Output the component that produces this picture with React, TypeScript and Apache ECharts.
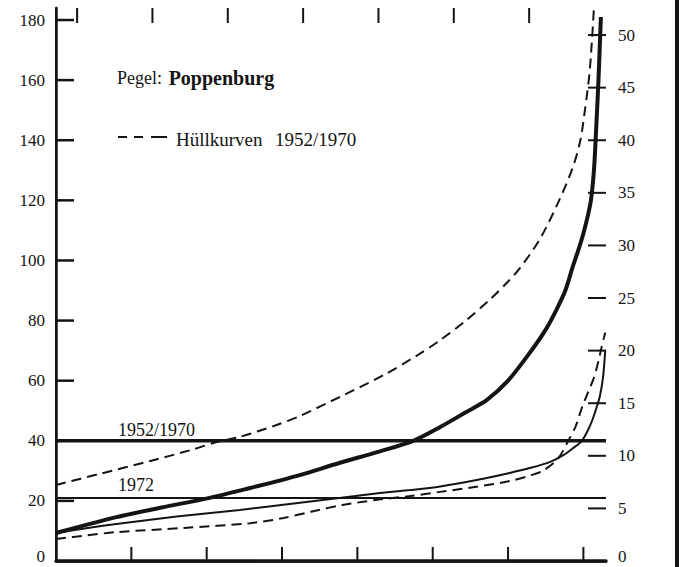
import { useEffect, useRef } from "react";
import * as echarts from "echarts";

// Abflussdauerlinien, Pegel Poppenburg (Tage im Jahr gegen Abfluss)
const DAY_MAX = 365;
const Q_LEFT_MAX = 184;
const RIGHT_SCALE = 3.5; // linke Einheit je rechter Einheit

const leftTickStep = 20;
const rightTickStep = 5;
const bottomTickStep = 50;

// Teilstriche (nach innen gerichtet)
const leftTicks = [20, 40, 60, 80, 100, 120, 140, 160, 180];
const rightTicks = [5, 10, 15, 20, 25, 30, 35, 40, 45, 50];
const bottomTickDays = [50, 100, 150, 200, 250, 300, 350];
const topTickDays = [14, 64, 114, 164, 214, 264, 314];

// obere Hüllkurve 1952/1970
const upperEnvelopeDays = [0, 29, 62, 90, 106, 122, 145, 162, 190, 218, 240, 255, 272, 288, 300, 308, 321, 333, 343, 348, 351, 354, 355.5, 357];
const upperEnvelopeQ = [25.3, 29, 33.2, 37, 39.5, 41.3, 45, 48.3, 55, 62, 68.5, 73.5, 80, 87, 93, 97.5, 107, 119, 131, 140, 150, 162, 172, 184];

// Dauerlinie 1952/1970
const meanCurveDays = [0, 20, 40, 70, 102, 129, 160, 188, 215, 237, 255, 272, 286, 300, 314, 325, 332, 338, 343, 347, 350, 353, 355, 357, 358.3, 360, 361.6];
const meanCurveQ = [9.3, 12, 14.6, 17.8, 21, 24.3, 28.3, 32.6, 36.5, 40, 44.6, 49.5, 53.6, 60, 69, 77, 83.5, 90, 98, 104, 109, 115, 120, 130, 142, 160, 181];

// Dauerlinie 1972
const year1972Days = [0, 20, 40, 80, 122, 155, 188, 215, 235, 255, 280, 301, 315, 328, 337, 343, 349, 353, 356, 359, 361, 363, 364.5];
const year1972Q = [9.3, 10.9, 12.3, 14.8, 17, 19, 21, 22.6, 23.6, 24.8, 27, 29.3, 31, 33, 35.3, 37.5, 40, 43.5, 47, 51.5, 55, 61, 70];

// untere Hüllkurve 1952/1970
const lowerEnvelopeDays = [0, 20, 40, 85, 129, 151, 170, 190, 212, 235, 255, 280, 301, 315, 323, 333, 340, 345, 349, 353, 357, 360, 362, 364.5];
const lowerEnvelopeQ = [7.3, 8.5, 9.6, 11, 12.6, 14.3, 16.5, 18.6, 20.3, 21.6, 23, 24.8, 26.6, 28.5, 30, 34, 40, 45, 51, 56, 61, 66.5, 71, 76];

// Mittelwerte als waagerechte Linien
const mean1952to1970 = 40;
const mean1972 = 21;

const INK = "#141414";
const SERIF = "'Liberation Serif', 'DejaVu Serif', serif";

const zip = (xs: number[], ys: number[]) => xs.map((x, i) => [x, ys[i]]);

// Striche der Legende „– – –“ (x-Anfang, x-Ende)
const legendDashes = [
  [118, 127],
  [134, 143],
  [151, 167],
];

// Teilstrich als eigene Serie: Punkt über die Achsen umrechnen, Strich nach innen zeichnen
function tickSeries(
  name: string,
  points: number[][],
  dx: number,
  dy: number,
  width: number,
  yAxisIndex = 0,
  xAxisIndex = 0
) {
  return {
    name,
    type: "custom",
    xAxisIndex,
    yAxisIndex,
    silent: true,
    clip: false,
    z: 6,
    data: points,
    renderItem: (_params: any, api: any) => {
      const p = api.coord([api.value(0), api.value(1)]);
      return {
        type: "line",
        shape: { x1: p[0], y1: p[1], x2: p[0] + dx, y2: p[1] + dy },
        style: { stroke: INK, lineWidth: width },
      };
    },
  };
}

export default function App() {
  const ref = useRef<HTMLDivElement>(null);

  useEffect(() => {
    if (!ref.current) return;
    const chart = echarts.init(ref.current, undefined, { renderer: "svg" });

    const axisText = { color: INK, fontFamily: SERIF, fontSize: 17 };
    // Null-Beschriftung etwas anheben, damit sie nicht am Rand abgeschnitten wird
    const zeroRich = { z: { fontFamily: SERIF, fontSize: 17, color: INK, padding: [0, 0, 10, 0] } };

    const lineCurve = (name: string, days: number[], q: number[], width: number, dashed: boolean, z: number) => ({
      name,
      type: "line",
      data: zip(days, q),
      showSymbol: false,
      smooth: 0.3,
      lineStyle: { color: INK, width, type: dashed ? [10, 6] : "solid" },
      z,
    });

    const plainAxis = {
      axisTick: { show: false },
      splitLine: { show: false },
    };

    chart.setOption({
      animation: false,
      backgroundColor: "#ffffff",
      grid: { left: 56, right: 80, top: 8, bottom: 6, outerBoundsMode: "none" },
      xAxis: [
        {
          ...plainAxis,
          type: "value",
          position: "bottom",
          min: 0,
          max: DAY_MAX,
          interval: bottomTickStep,
          axisLine: { show: true, lineStyle: { color: INK, width: 2.5 } },
          axisLabel: { show: false },
        },
        {
          ...plainAxis,
          type: "value",
          position: "top",
          min: 0,
          max: DAY_MAX,
          interval: bottomTickStep,
          axisLine: { show: true, lineStyle: { color: INK, width: 3.5 } },
          axisLabel: { show: false },
        },
      ],
      yAxis: [
        {
          ...plainAxis,
          type: "value",
          position: "left",
          min: 0,
          max: Q_LEFT_MAX,
          interval: leftTickStep,
          axisLine: { show: true, lineStyle: { color: INK, width: 2.5 } },
          axisLabel: {
            ...axisText,
            margin: 11,
            rich: zeroRich,
            formatter: (v: number) =>
              v === 0 ? "{z|0}" : v % leftTickStep === 0 ? String(v) : "",
          },
        },
        {
          ...plainAxis,
          type: "value",
          position: "right",
          min: 0,
          max: Q_LEFT_MAX / RIGHT_SCALE,
          interval: rightTickStep,
          axisLine: { show: true, lineStyle: { color: INK, width: 2 } },
          axisLabel: {
            ...axisText,
            margin: 12,
            rich: zeroRich,
            formatter: (v: number) =>
              v === 0
                ? "{z|0}"
                : Math.abs(v % rightTickStep) < 1e-6
                ? String(Math.round(v))
                : "",
          },
        },
      ],
      series: [
        lineCurve("Hüllkurve oben", upperEnvelopeDays, upperEnvelopeQ, 2, true, 3),
        lineCurve("1952/1970", meanCurveDays, meanCurveQ, 4, false, 4),
        lineCurve("1972", year1972Days, year1972Q, 2, false, 4),
        lineCurve("Hüllkurve unten", lowerEnvelopeDays, lowerEnvelopeQ, 2, true, 3),
        {
          name: "Mittel 1952/1970",
          type: "line",
          data: [
            [0, mean1952to1970],
            [DAY_MAX, mean1952to1970],
          ],
          showSymbol: false,
          lineStyle: { color: INK, width: 3.5 },
          z: 2,
        },
        {
          name: "Mittel 1972",
          type: "line",
          data: [
            [0, mean1972],
            [DAY_MAX, mean1972],
          ],
          showSymbol: false,
          lineStyle: { color: INK, width: 2 },
          z: 2,
        },
        tickSeries("Teilung links", leftTicks.map((v) => [0, v]), 18, 0, 2.5, 0),
        tickSeries("Teilung rechts", rightTicks.map((v) => [DAY_MAX, v]), -18, 0, 2, 1),
        tickSeries("Teilung unten", bottomTickDays.map((d) => [d, 0]), 0, -14, 2, 0),
        tickSeries("Teilung oben", topTickDays.map((d) => [d, Q_LEFT_MAX]), 0, 15, 2, 0),
      ],
      graphic: [
        {
          type: "text",
          left: 117,
          top: 68,
          style: {
            text: "{a|Pegel:}  {b|Poppenburg}",
            rich: {
              a: { fontFamily: SERIF, fontSize: 18, fill: INK },
              b: { fontFamily: SERIF, fontSize: 20, fontWeight: "bold", fill: INK },
            },
          },
        },
        ...legendDashes.map(([x1, x2]) => ({
          type: "line",
          shape: { x1, y1: 137, x2, y2: 137 },
          style: { stroke: INK, lineWidth: 2 },
        })),
        {
          type: "text",
          x: 176,
          y: 139,
          style: { text: "Hüllkurven", fontFamily: SERIF, fontSize: 19, fill: INK, verticalAlign: "middle" },
        },
        {
          type: "text",
          x: 275,
          y: 139,
          style: { text: "1952/1970", fontFamily: SERIF, fontSize: 19, fill: INK, verticalAlign: "middle" },
        },
        {
          type: "text",
          x: 118,
          y: 430,
          style: { text: "1952/1970", fontFamily: SERIF, fontSize: 18, fill: INK, verticalAlign: "middle" },
        },
        {
          type: "text",
          x: 118,
          y: 485,
          style: { text: "1972", fontFamily: SERIF, fontSize: 18, fill: INK, verticalAlign: "middle" },
        },
        {
          type: "rect",
          shape: { x: 675, y: 0, width: 4, height: 567 },
          style: { fill: INK },
        },
      ],
    });

    return () => chart.dispose();
  }, []);

  return (
    <div
      ref={ref}
      style={{ position: "fixed", left: 0, top: 0, width: 686, height: 567, background: "#fff" }}
    />
  );
}
